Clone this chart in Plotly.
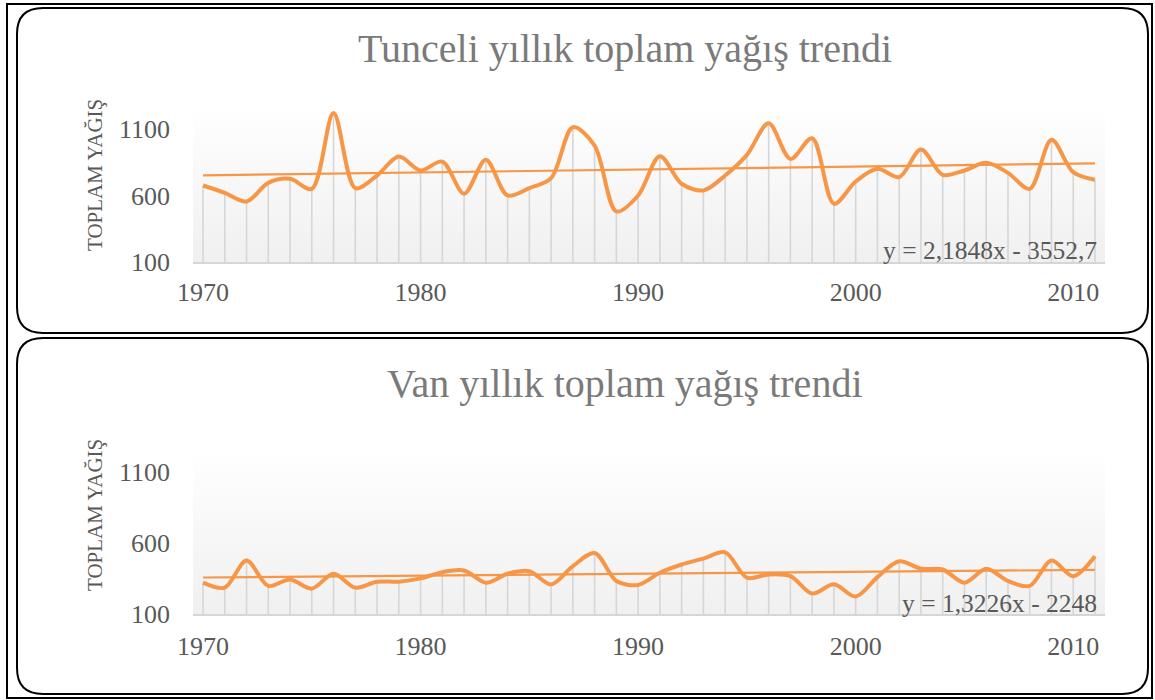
import plotly.graph_objects as go

# ---------------- data ----------------
years = list(range(1970, 2012))

tunceli = [675, 620, 555, 695, 725, 650, 1220, 655, 750, 893,
           788, 855, 613, 868, 600, 655, 730, 1113, 975, 480,
           600, 895, 688, 638, 750, 905, 1143, 875, 1030, 538,
           705, 800, 738, 945, 755, 788, 845, 770, 650, 1018,
           775, 718]

van = [321, 286, 477, 298, 344, 279, 384, 286, 328, 328,
       351, 395, 407, 321, 384, 402, 309, 437, 530, 333,
       305, 391, 449, 491, 535, 356, 379, 367, 244, 309,
       223, 360, 472, 419, 414, 321, 419, 333, 298, 477,
       367, 507]

titles = ["Tunceli yıllık toplam yağış trendi", "Van yıllık toplam yağış trendi"]
trend_slope = [2.1848, 1.3226]
trend_intercept = [-3552.7, -2248]
trend_labels = ["y = 2,1848x - 3552,7", "y = 1,3226x - 2248"]
y_title = "TOPLAM YAĞIŞ"
y_ticks = [100, 600, 1100]
x_ticks = [1970, 1980, 1990, 2000, 2010]

# ---------------- styling ----------------
W, H = 1155, 700
ORANGE = "#F79646"
GRID = "#D6D6D6"
TXT = "#595959"
TITLE_C = "#7A7A7A"
FONT = "Liberation Serif"

# plot areas in pixels: (left, right, top, bottom)
areas = [(193, 1105, 103, 262), (193, 1105, 447, 614)]
y_ranges = [[100, 1295], [100, 1278]]
x_range = [1969.54, 2011.46]
x_standoff = [6, 8]

fig = go.Figure()

series = [tunceli, van]
for i, vals in enumerate(series):
    xa = "x" if i == 0 else "x2"
    ya = "y" if i == 0 else "y2"
    y0, y1 = y_ranges[i]
    # gradient background of plot area
    fig.add_trace(go.Scatter(
        x=[x_range[0], x_range[1], x_range[1], x_range[0], x_range[0]],
        y=[y0, y0, y1, y1, y0],
        mode="lines", line=dict(width=0), fill="toself",
        fillgradient=dict(type="vertical", start=y0, stop=y1,
                          colorscale=[[0, "#F0F0F0"], [1, "#FFFFFF"]]),
        hoverinfo="skip", showlegend=False, xaxis=xa, yaxis=ya))
    # drop lines
    fig.add_trace(go.Scatter(
        x=years, y=vals, mode="markers",
        marker=dict(size=1, color="rgba(0,0,0,0)"),
        error_y=dict(type="data", symmetric=False,
                     array=[0] * len(vals),
                     arrayminus=[v - y0 for v in vals],
                     color=GRID, thickness=1.6, width=0),
        hoverinfo="skip", showlegend=False, xaxis=xa, yaxis=ya))
    # trend line
    tx = [years[0], years[-1]]
    ty = [trend_slope[i] * t + trend_intercept[i] for t in tx]
    fig.add_trace(go.Scatter(
        x=tx, y=ty, mode="lines", line=dict(color=ORANGE, width=2.2),
        showlegend=False, xaxis=xa, yaxis=ya))
    # data line
    fig.add_trace(go.Scatter(
        x=years, y=vals, mode="lines",
        line=dict(color=ORANGE, width=4, shape="spline", smoothing=0.9),
        showlegend=False, xaxis=xa, yaxis=ya))

def dom_x(a):
    return [a[0] / W, a[1] / W]

def dom_y(a):
    return [1 - a[3] / H, 1 - a[2] / H]

axis_common = dict(showgrid=False, zeroline=False, automargin=False)
for i, a in enumerate(areas):
    sx = "" if i == 0 else "2"
    fig.update_layout(**{
        f"xaxis{sx}": dict(domain=dom_x(a), range=x_range, tickvals=x_ticks,
                           showline=True, linecolor=GRID, linewidth=1.6,
                           ticks="", ticklabelstandoff=x_standoff[i],
                           tickfont=dict(family=FONT, size=26, color=TXT),
                           anchor=f"y{sx}", **axis_common),
        f"yaxis{sx}": dict(domain=dom_y(a), range=y_ranges[i], tickvals=y_ticks,
                           showline=False, ticks="", ticklabelstandoff=22,
                           tickfont=dict(family=FONT, size=26, color=TXT),
                           anchor=f"x{sx}", **axis_common),
    })

annotations = []
title_y = [48, 383]
ytitle_y = [175, 515]
for i, a in enumerate(areas):
    annotations.append(dict(text=titles[i], x=625 / W, y=1 - title_y[i] / H,
                            xref="paper", yref="paper", showarrow=False,
                            xanchor="center", yanchor="middle",
                            font=dict(family=FONT, size=40, color=TITLE_C)))
    annotations.append(dict(text=y_title, x=95 / W, y=1 - ytitle_y[i] / H,
                            xref="paper", yref="paper", showarrow=False,
                            xanchor="center", yanchor="middle", textangle=-90,
                            font=dict(family=FONT, size=21, color=TXT)))
    annotations.append(dict(text=trend_labels[i], x=1099 / W,
                            y=1 - (a[3] - 11) / H,
                            xref="paper", yref="paper", showarrow=False,
                            xanchor="right", yanchor="middle",
                            font=dict(family=FONT, size=25.5, color=TXT)))

def px(x, y):
    return x / W, 1 - y / H

def rounded_path(x0, y0, x1, y1, r):
    def P(x, y):
        X, Y = px(x, y)
        return f"{X:.5f},{Y:.5f}"
    return (f"M {P(x0 + r, y0)} L {P(x1 - r, y0)} Q {P(x1, y0)} {P(x1, y0 + r)} "
            f"L {P(x1, y1 - r)} Q {P(x1, y1)} {P(x1 - r, y1)} "
            f"L {P(x0 + r, y1)} Q {P(x0, y1)} {P(x0, y1 - r)} "
            f"L {P(x0, y0 + r)} Q {P(x0, y0)} {P(x0 + r, y0)} Z")

shapes = [
    dict(type="rect", xref="paper", yref="paper",
         x0=7 / W, x1=1152 / W, y0=1 - 698 / H, y1=1 - 4 / H,
         line=dict(color="black", width=2)),
    dict(type="path", xref="paper", yref="paper",
         path=rounded_path(17, 8, 1148, 333, 26), line=dict(color="black", width=2)),
    dict(type="path", xref="paper", yref="paper",
         path=rounded_path(17, 338, 1148, 694, 26), line=dict(color="black", width=2)),
]

fig.update_layout(template="none", width=W, height=H,
                  margin=dict(l=0, r=0, t=0, b=0, autoexpand=False),
                  paper_bgcolor="white", plot_bgcolor="rgba(0,0,0,0)",
                  annotations=annotations, shapes=shapes, showlegend=False)

fig.write_html(
    "out.html",
    config={"displayModeBar": False},
    post_script="document.body.style.margin='0';document.body.style.overflow='hidden';"
)
